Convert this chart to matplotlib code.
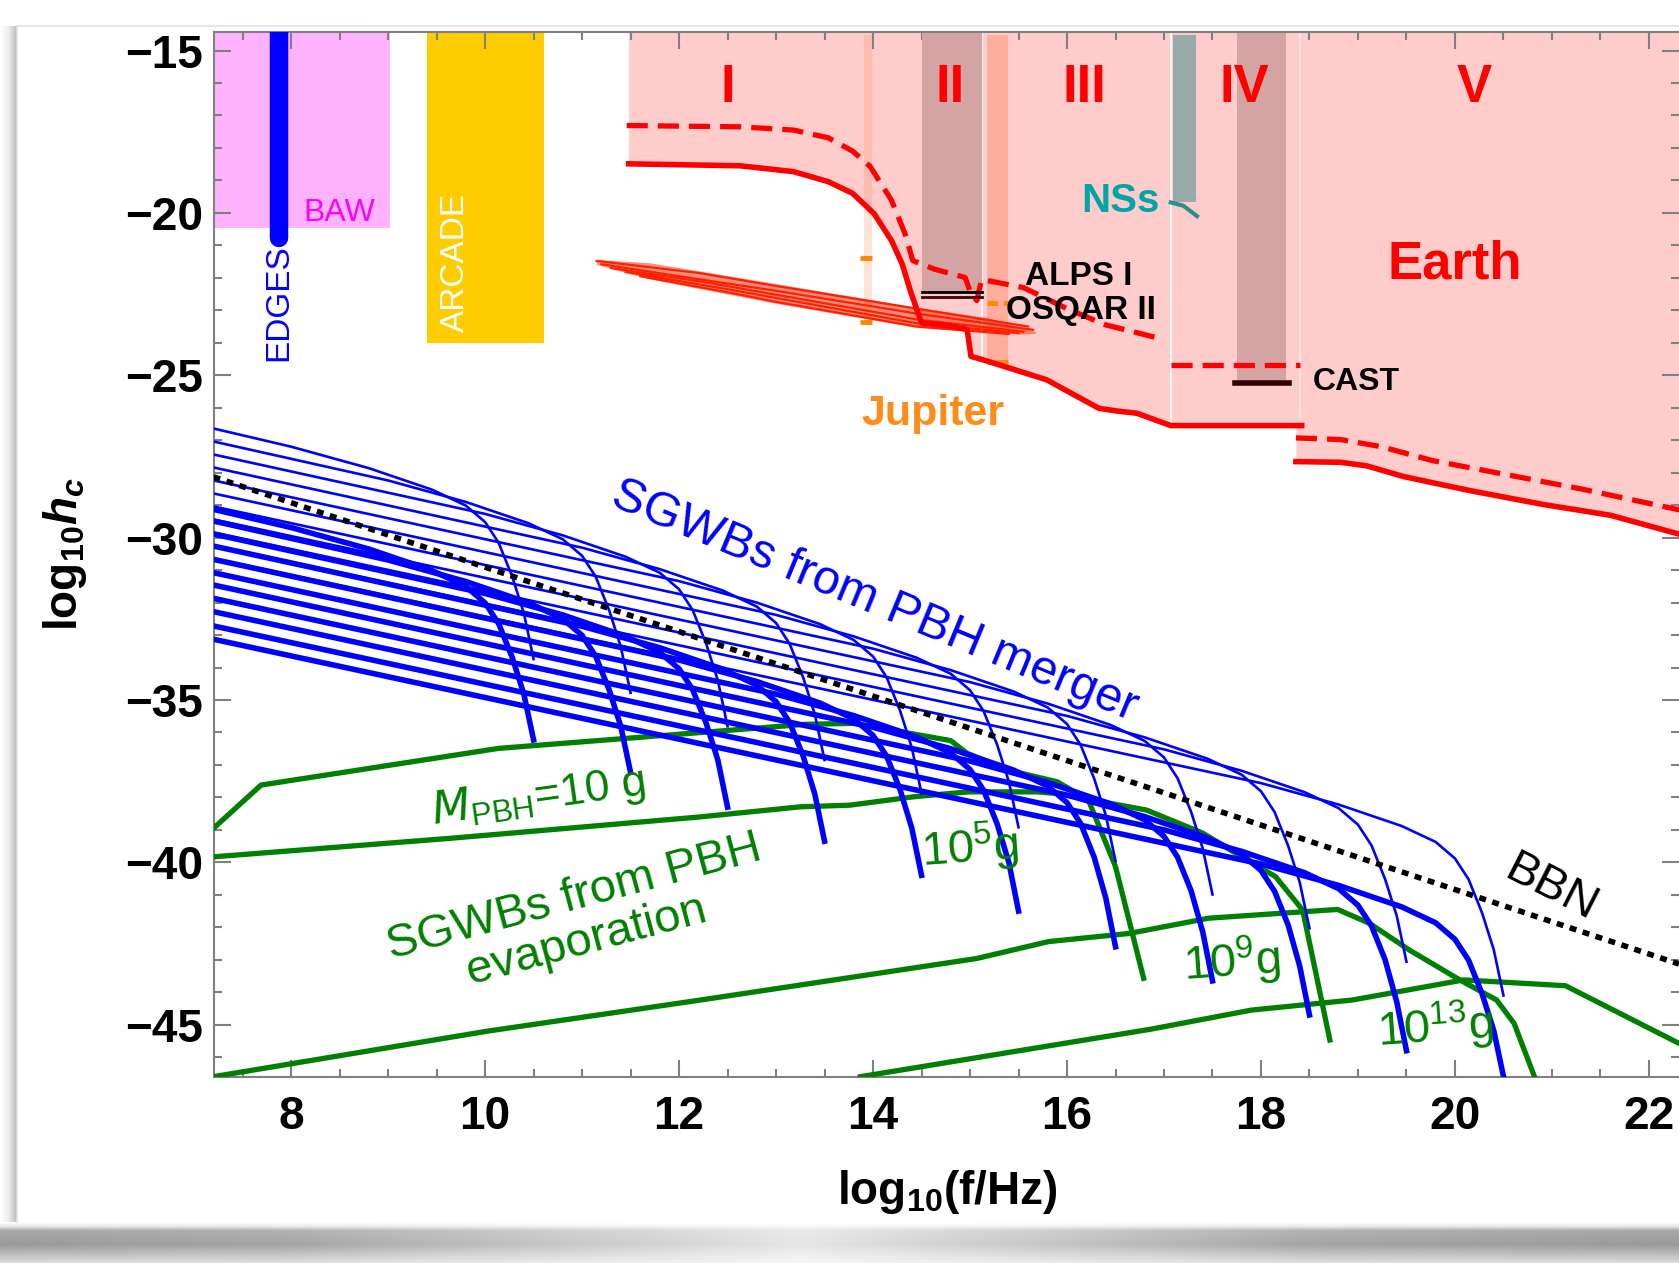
import numpy as np
import matplotlib
matplotlib.use('Agg')
import matplotlib.pyplot as plt
from matplotlib.lines import Line2D
from matplotlib.ticker import MultipleLocator, FuncFormatter

plt.rcParams['font.family'] = ['Liberation Sans', 'DejaVu Sans']
plt.rcParams['mathtext.fontset'] = 'custom'
plt.rcParams['mathtext.rm'] = 'Liberation Sans:bold'
plt.rcParams['mathtext.it'] = 'Liberation Sans:italic:bold'
plt.rcParams['mathtext.bf'] = 'Liberation Sans:bold'

# ---------------- data ----------------
x_lim = (7.205, 22.31)
y_lim = (-46.61, -14.43)
top_y = -14.0

baw_x = [7.205, 9.02]
baw_y = [-20.47, top_y]
edges_x = [7.875, 7.875]
edges_y = [-13.0, -20.78]
arcade_x = [9.40, 10.61]
arcade_y = [-24.0, top_y]

red_solid_a_x = [11.48, 12.63, 13.18, 13.54, 13.79, 14.01, 14.19, 14.30, 14.39, 14.50,
                 14.81, 14.97, 15.01, 15.13, 15.79, 16.33, 16.51, 16.72, 17.07]
red_solid_a_y = [-18.49, -18.55, -18.73, -19.04, -19.40, -20.02, -20.85, -21.57, -22.45, -23.39,
                 -23.49, -23.59, -24.42, -24.52, -25.14, -26.02, -26.10, -26.17, -26.55]
red_solid_b_x = [17.07, 18.42]
red_solid_b_y = [-26.55, -26.55]
red_solid_c_x = [18.36, 18.82, 19.09, 19.47, 20.15, 20.91, 21.60, 22.32]
red_solid_c_y = [-27.66, -27.68, -27.79, -28.12, -28.55, -28.98, -29.31, -29.90]

red_dash_a_x = [11.46, 12.63, 13.18, 13.54, 13.79, 13.97, 14.19, 14.33, 14.41, 14.63, 14.95,
                15.01, 15.07, 15.12, 15.55, 16.00, 16.40, 17.00]
red_dash_a_y = [-17.31, -17.35, -17.45, -17.69, -18.10, -18.57, -19.61, -20.64, -21.47, -21.73, -21.99,
                -22.50, -22.70, -22.05, -22.30, -22.95, -23.45, -23.90]
red_dash_b_x = [17.07, 18.40]
red_dash_b_y = [-24.68, -24.68]
red_dash_c_x = [18.36, 18.82, 19.24, 19.77, 20.53, 21.30, 22.32]
red_dash_c_y = [-26.93, -26.98, -27.20, -27.63, -28.06, -28.50, -29.15]

region_edges_x = [15.12, 17.07, 18.40]
region_edges_bottom = [-24.45, -26.55, -26.55]

band_II_x = [14.50, 15.12]
band_II_y = [-22.45, top_y]
band_IV_x = [17.75, 18.26]
band_IV_y = [-25.25, top_y]
nss_band_x = [17.09, 17.33]
nss_band_y = [-19.68, -14.52]
nss_curve_x = [17.07, 17.20, 17.34]
nss_curve_y = [-19.68, -19.78, -20.10]

jup1_x = [13.91, 13.99]
jup1_y = [-23.44, -14.52]
jup1_marks_x = [13.87, 13.99]
jup1_marks_y = [-21.40, -23.36]
jup2_x = [15.17, 15.39]
jup2_y = [-24.63, -14.52]
jup2_marks_x = [15.17, 15.39]
jup2_marks_y = [-22.76, -24.58]

alps_x = [14.50, 15.12]
alps_y = -22.45
osqar_y = -22.60
cast_x = [17.73, 18.29]
cast_y = -25.25

fuzzy_top_x = [11.15, 11.70, 13.00, 14.45, 15.20, 15.68]
fuzzy_top_y = [-21.45, -21.55, -22.19, -22.92, -23.25, -23.68]
fuzzy_bot_x = [11.15, 11.70, 13.00, 14.45, 15.53, 15.68]
fuzzy_bot_y = [-21.60, -22.05, -22.80, -23.54, -23.75, -23.72]
fuzzy_strands = [
    ([11.15, 12.2, 13.0, 14.45, 15.6], [-21.48, -21.85, -22.25, -22.95, -23.50]),
    ([11.20, 12.0, 13.0, 14.45, 15.65], [-21.58, -21.95, -22.40, -23.10, -23.60]),
    ([11.30, 12.3, 13.0, 14.45, 15.55], [-21.70, -22.15, -22.52, -23.28, -23.66]),
    ([11.45, 12.5, 13.0, 14.45, 15.50], [-21.82, -22.35, -22.62, -23.40, -23.70]),
    ([11.60, 12.6, 13.0, 14.45, 15.40], [-21.95, -22.50, -22.74, -23.50, -23.73]),
]

bbn_x = [7.2, 22.31]
bbn_y = [-28.13, -43.13]

# PBH-merger SGWB curves: cut-off frequencies and knee sampling offsets
merger_fcut = [10.5, 11.5, 12.5, 13.5, 14.5, 15.5, 16.5, 17.5, 18.5, 19.5, 20.5]
knee_dx = [-2.5, -1.7, -1.05, -0.7, -0.5, -0.36, -0.22, -0.1, 0.0]
merger_thin_y = [
    [-26.64, -27.20, -27.86, -28.52, -29.01, -29.52, -30.16, -31.20, -32.33, -33.74],
    [-27.04, -28.24, -28.90, -29.56, -30.05, -30.56, -31.20, -32.24, -33.37, -34.78],
    [-27.44, -29.27, -29.93, -30.59, -31.08, -31.59, -32.23, -33.27, -34.40, -35.81],
    [-27.84, -30.31, -30.97, -31.63, -32.12, -32.63, -33.27, -34.31, -35.44, -36.85],
    [-28.24, -31.34, -32.00, -32.66, -33.15, -33.66, -34.30, -35.34, -36.47, -37.88],
    [-28.64, -32.38, -33.04, -33.70, -34.19, -34.70, -35.34, -36.38, -37.51, -38.92],
    [-29.04, -33.42, -34.08, -34.74, -35.23, -35.74, -36.38, -37.42, -38.55, -39.96],
    [-29.44, -34.45, -35.11, -35.77, -36.26, -36.77, -37.41, -38.45, -39.58, -40.99],
    [-29.84, -35.49, -36.15, -36.81, -37.30, -37.81, -38.45, -39.49, -40.62, -42.03],
    [-30.24, -36.52, -37.18, -37.84, -38.33, -38.84, -39.48, -40.52, -41.65, -43.06],
    [-30.64, -37.56, -38.22, -38.88, -39.37, -39.88, -40.52, -41.56, -42.69, -44.10],
]
merger_thick_y = [
    [-29.13, -29.69, -30.35, -31.01, -31.50, -32.01, -32.65, -33.69, -34.82, -36.23],
    [-29.49, -30.69, -31.35, -32.01, -32.50, -33.01, -33.65, -34.69, -35.82, -37.23],
    [-29.89, -31.72, -32.38, -33.04, -33.53, -34.04, -34.68, -35.72, -36.85, -38.30],
    [-30.26, -32.73, -33.39, -34.05, -34.54, -35.05, -35.69, -36.73, -37.90, -39.35],
    [-30.67, -33.77, -34.43, -35.09, -35.58, -36.09, -36.73, -37.77, -38.95, -40.40],
    [-31.08, -34.82, -35.48, -36.14, -36.63, -37.14, -37.78, -38.82, -40.00, -41.50],
    [-31.46, -35.84, -36.50, -37.16, -37.65, -38.16, -38.80, -39.84, -41.10, -42.60],
    [-31.87, -36.88, -37.54, -38.20, -38.69, -39.20, -39.84, -40.88, -42.15, -43.65],
    [-32.28, -37.93, -38.59, -39.25, -39.74, -40.25, -40.89, -41.93, -43.20, -44.70],
    [-32.72, -39.00, -39.66, -40.32, -40.81, -41.32, -41.96, -43.00, -44.30, -45.80],
    [-33.13, -40.05, -40.71, -41.37, -41.86, -42.37, -43.01, -44.05, -45.18, -46.59],
]
merger_x0 = 7.2

# PBH-evaporation SGWB curves (green)
evap_x = [
    [7.2, 7.69, 10.14, 13.3, 13.8, 14.8, 14.97, 15.39, 15.9, 16.22, 16.5, 16.79],
    [7.2, 9.64, 12.22, 13.25, 13.76, 14.42, 14.98, 15.69, 15.9, 16.82, 17.4, 17.74, 18.15, 18.43, 18.71],
    [7.2, 10.02, 12.22, 13.6, 15.07, 15.81, 16.64, 17.46, 18.79, 19.12, 19.53, 20.05, 20.43, 20.61, 20.82],
    [13.87, 16.86, 17.9, 18.94, 20.09, 21.14, 22.32],
]
evap_y = [
    [-38.95, -37.62, -36.49, -35.75, -35.72, -36.25, -36.64, -37.16, -37.52, -38.08, -40.13, -43.57],
    [-39.83, -39.26, -38.6, -38.29, -38.24, -37.98, -37.83, -37.83, -37.88, -38.39, -39.1, -39.72, -40.44, -41.47, -45.47],
    [-46.6, -45.2, -44.24, -43.62, -42.96, -42.44, -42.19, -41.72, -41.45, -41.88, -42.70, -43.62, -44.24, -44.96, -46.6],
    [-46.6, -45.14, -44.55, -44.24, -43.62, -43.8, -45.59],
]

x_ticks = [8, 10, 12, 14, 16, 18, 20, 22]
y_ticks = [-15, -20, -25, -30, -35, -40, -45]

# ---------------- colours ----------------
PINK = '#FFCCCC'
DARKBAND = '#D4A3A3'
RED = '#FF0000'
BLUE = '#0000FF'
GREEN = '#008000'

W, H = 1679, 1263
fig = plt.figure(figsize=(W / 100, H / 100), dpi=100)
fig.patch.set_facecolor('white')

# card shadow
left = np.interp(np.arange(17), [0, 8, 16], [1.0, 0.93, 0.74])
left_img = np.ones((1214, 17, 3)) * left[None, :, None]
fig.figimage(left_img, xo=0, yo=H - 1240, origin='upper', zorder=0)
rows = np.interp(np.arange(41), [0, 4, 8, 22, 40], [1.0, 0.9, 0.66, 0.6, 0.86])
cols = np.interp(np.arange(W), [0, 300, 800, 1300, W], [0.0, 0.05, 0.3, 0.05, 0.0])
bot = np.clip(rows[:, None] + cols[None, :] * (1 - rows[:, None]) * 2.5, 0, 1)
bot_img = np.repeat(bot[:, :, None], 3, axis=2)
fig.figimage(bot_img, xo=0, yo=0, origin='upper', zorder=0)
fig.add_artist(Line2D([17 / W, 1], [1 - 26 / H, 1 - 26 / H], color='#E2E2E2', lw=1.2,
                      transform=fig.transFigure))
fig.add_artist(Line2D([17 / W, 17 / W], [1 - 26 / H, 1 - 1222 / H], color='#E2E2E2', lw=1.2,
                      transform=fig.transFigure))

ax = fig.add_axes([214 / W, (H - 1077) / H, 1465 / W, 1045 / H])
ax.set_xlim(*x_lim)
ax.set_ylim(*y_lim)

# ---- experiments on the left ----
ax.fill_between(baw_x, baw_y[0], baw_y[1], color='#FFB3FF', lw=0, zorder=1)
ax.fill_between(arcade_x, arcade_y[0], arcade_y[1], color='#FFCC00', lw=0, zorder=1)
ax.plot(edges_x, edges_y, color=BLUE, lw=13.3, solid_capstyle='round', zorder=3)

# ---- Earth-based regions ----
ax.fill_between(red_solid_a_x, red_solid_a_y, top_y, color=PINK, lw=0, zorder=1)
ax.fill_between(red_solid_b_x, red_solid_b_y, top_y, color=PINK, lw=0, zorder=1)
ax.fill_between(red_solid_c_x, red_solid_c_y, top_y, color=PINK, lw=0, zorder=1)
for xe, yb, a in zip(region_edges_x, region_edges_bottom, [1.0, 1.0, 0.5]):
    ax.plot([xe, xe], [yb, top_y], color='white', lw=1.3, alpha=a, zorder=1.5)

ax.fill_between(band_II_x, band_II_y[0], band_II_y[1], color=DARKBAND, lw=0, zorder=2)
ax.fill_between(band_IV_x, band_IV_y[0], band_IV_y[1], color=DARKBAND, lw=0, zorder=2)
ax.fill_between(nss_band_x, nss_band_y[0], nss_band_y[1], color='#99AAAA', lw=0, zorder=2)
ax.plot(nss_curve_x, nss_curve_y, color='#2E8E8E', lw=3, zorder=4)

# Jupiter bands
ax.fill_between(jup1_x, jup1_y[0], jup1_y[1], color='#FF7733', alpha=0.2, lw=0, zorder=2.5)
ax.fill_between(jup2_x, jup2_y[0], jup2_y[1], color='#FF6633', alpha=0.3, lw=0, zorder=2.5)
for yv in jup1_marks_y:
    ax.plot(jup1_marks_x, [yv, yv], color='#FF8800', lw=3.5, zorder=4, solid_capstyle='butt')
ax.plot(jup2_marks_x, [jup2_marks_y[0]] * 2, color='#FF8800', lw=3.5, zorder=4,
        dashes=(2.2, 1.2))
ax.plot(jup2_marks_x, [jup2_marks_y[1]] * 2, color='#FF8800', lw=3.5, zorder=4,
        solid_capstyle='butt')

# fuzzy red band
ax.fill(fuzzy_top_x + fuzzy_bot_x[::-1], fuzzy_top_y + fuzzy_bot_y[::-1],
        color='#FF3010', alpha=0.55, lw=0, zorder=3)
for sx, sy in fuzzy_strands:
    ax.plot(sx, sy, color='#FF2000', lw=1.6, zorder=3.1)

# red limit lines
ax.plot(red_solid_a_x + red_solid_b_x, red_solid_a_y + red_solid_b_y, color=RED, lw=4,
        zorder=4, solid_joinstyle='round')
ax.plot(red_solid_c_x, red_solid_c_y, color=RED, lw=4, zorder=4)
for dx, dy in [(red_dash_a_x, red_dash_a_y), (red_dash_b_x, red_dash_b_y),
               (red_dash_c_x, red_dash_c_y)]:
    ax.plot(dx, dy, color=RED, lw=3.8, dashes=(4.0, 1.9), zorder=4)

# ALPS / OSQAR / CAST
ax.plot(alps_x, [alps_y] * 2, color='black', lw=2, zorder=4.5)
ax.plot(alps_x, [osqar_y] * 2, color='#3A0000', lw=2, zorder=4.5)
ax.plot(cast_x, [cast_y] * 2, color='#330000', lw=4, zorder=4.5)

# ---- evaporation curves ----
for xs, ys in zip(evap_x, evap_y):
    ax.plot(xs, ys, color=GREEN, lw=3.8, zorder=5)

# ---- merger curves ----
for fc, ys in zip(merger_fcut, merger_thin_y):
    xs = [merger_x0] + [fc + d for d in knee_dx]
    ax.plot(xs, ys, color=BLUE, lw=1.9, zorder=6)
for fc, ys in zip(merger_fcut, merger_thick_y):
    xs = [merger_x0] + [fc + d for d in knee_dx]
    ax.plot(xs, ys, color=BLUE, lw=4.0, zorder=6)

# BBN
ax.plot(bbn_x, bbn_y, color='black', lw=4.0, dashes=(1.25, 1.2), zorder=7)

# ---- texts ----
for lbl, xv in zip(['I', 'II', 'III', 'IV', 'V'], [12.5, 14.8, 16.18, 17.83, 20.2]):
    ax.text(xv, -16.15, lbl, color=RED, fontsize=38, fontweight='bold', ha='center',
            va='center', zorder=8)
ax.text(16.95, -19.62, 'NSs', color='#00A6A6', fontsize=29, fontweight='bold', ha='right',
        va='center', zorder=8)
ax.text(20.0, -21.6, 'Earth', color=RED, fontsize=38, fontweight='bold', ha='center',
        va='center', zorder=8)
ax.text(15.57, -21.97, 'ALPS I', color='black', fontsize=24, fontweight='bold', ha='left',
        va='center', zorder=8)
ax.text(15.37, -23.0, 'OSQAR II', color='black', fontsize=24, fontweight='bold', ha='left',
        va='center', zorder=8)
ax.text(18.53, -25.22, 'CAST', color='black', fontsize=23, fontweight='bold', ha='left',
        va='center', zorder=8)
ax.text(14.62, -26.2, 'Jupiter', color='#FF8C1A', fontsize=31, fontweight='bold',
        ha='center', va='center', zorder=8)
ax.text(8.5, -20.0, 'BAW', color='#FF00FF', fontsize=23, ha='center', va='center', zorder=8)
ax.text(7.875, -22.75, 'EDGES', color=BLUE, fontsize=24, rotation=90, ha='center',
        va='center', zorder=8)
ax.text(9.69, -21.53, 'ARCADE', color='white', fontsize=24, rotation=90, ha='center',
        va='center', zorder=8)
ax.text(14.02, -31.95, 'SGWBs from PBH merger', color=BLUE, fontsize=35, rotation=-22.5,
        rotation_mode='anchor', ha='center', va='center', zorder=8)
ax.text(20.99, -40.8, 'BBN', color='black', fontsize=34, rotation=-27,
        rotation_mode='anchor', ha='center', va='center', zorder=8)
ax.text(10.55, -38.0, r'$M_{\mathregular{PBH}}$=10 g', color=GREEN, fontsize=32,
        rotation=8, rotation_mode='anchor', ha='center', va='center', zorder=8,
        math_fontfamily='dejavusans')
ax.text(10.98, -41.75, 'SGWBs from PBH\nevaporation', color=GREEN, fontsize=34,
        rotation=15, rotation_mode='anchor', ha='center', va='center',
        multialignment='center', linespacing=1.05, zorder=8)
for txt, xv, yv in [(r'$\mathregular{10^{5}g}$', 15.0, -39.55),
                    (r'$\mathregular{10^{9}g}$', 17.7, -43.06),
                    (r'$\mathregular{10^{13}g}$', 19.8, -45.08)]:
    ax.text(xv, yv, txt, color=GREEN, fontsize=34, rotation=4, rotation_mode='anchor',
            ha='center', va='center', zorder=8)

# ---- axes styling ----
ax.xaxis.set_minor_locator(MultipleLocator(0.5))
ax.yaxis.set_minor_locator(MultipleLocator(1))
ax.set_xticks(x_ticks)
ax.set_yticks(y_ticks)
ax.xaxis.set_major_formatter(FuncFormatter(lambda v, p: '%d' % round(v)))
ax.yaxis.set_major_formatter(FuncFormatter(lambda v, p: '\u2212%d' % round(-v)))
ax.tick_params(which='both', direction='in', top=True, right=True, color='#808080', width=1.5)
ax.tick_params(which='major', length=12)
ax.tick_params(which='minor', length=6)
ax.tick_params(axis='x', labelsize=33, pad=13)
ax.tick_params(axis='y', labelsize=33, pad=8)
plt.setp(ax.get_xticklabels(), fontweight='bold')
plt.setp(ax.get_yticklabels(), fontweight='bold')
for sp in ax.spines.values():
    sp.set_color('#808080')
    sp.set_linewidth(1.5)
ax.spines['right'].set_visible(False)

fig.text(947 / W, 1 - 1192 / H, r'$\mathregular{log_{10}(f/Hz)}$', fontsize=33,
         fontweight='bold', ha='center', va='center')
fig.text(65 / W, 1 - 554 / H, r'$\mathregular{log_{10}}h_c$', fontsize=33, fontweight='bold',
         rotation=90, ha='center', va='center')

fig.savefig('out.png', dpi=100)
